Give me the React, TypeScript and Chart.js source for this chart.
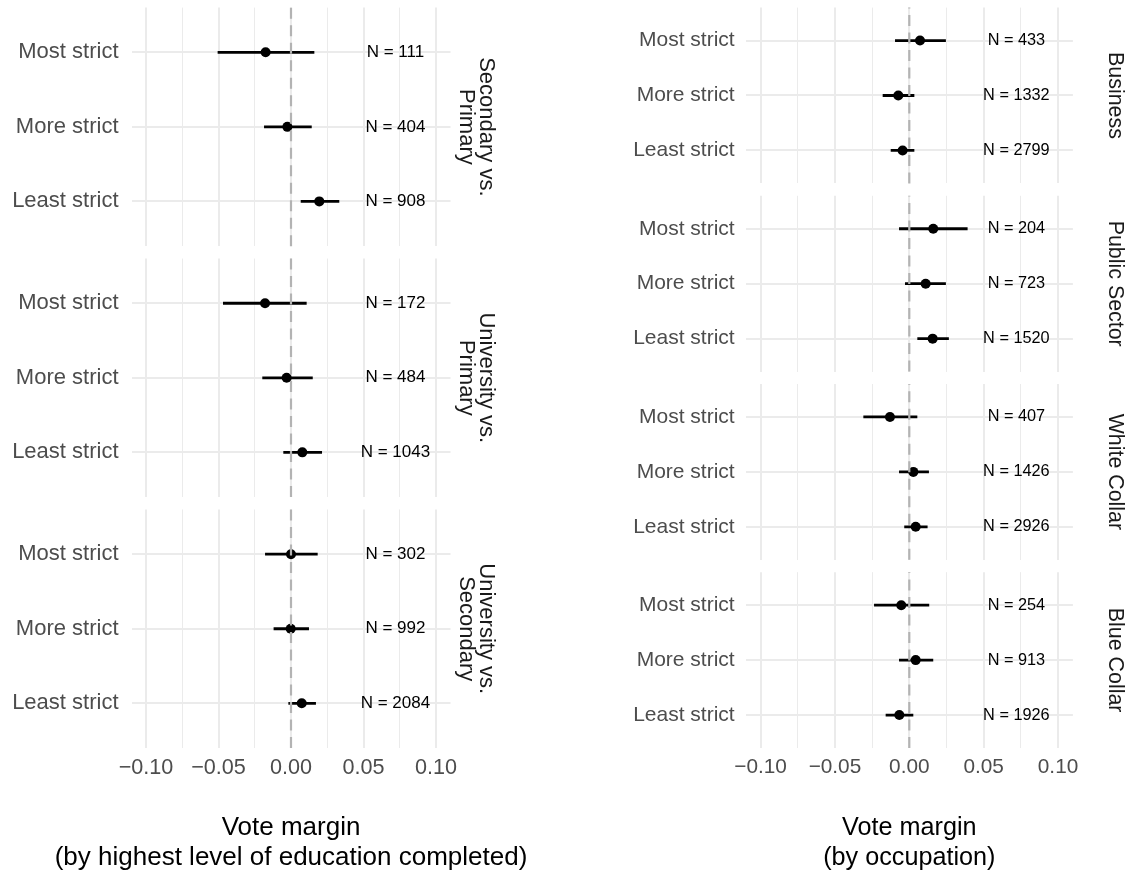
import React, { useEffect, useRef } from "react";
import { Chart, registerables } from "chart.js";
Chart.register(...registerables);

// ---------- data ----------
const strictness = ["Most strict", "More strict", "Least strict"];
const xTickValues = [-0.1, -0.075, -0.05, -0.025, 0, 0.025, 0.05, 0.075, 0.1];
const xTickLabels = ["\u22120.10", "", "\u22120.05", "", "0.00", "", "0.05", "", "0.10"];
const nLabelX = 0.072;

const eduFacets = [
  ["Secondary vs.", "Primary"],
  ["University vs.", "Primary"],
  ["University vs.", "Secondary"],
];
const eduEstimate = [
  [-0.0175, -0.0025, 0.0195],
  [-0.0179, -0.003, 0.0078],
  [0.0, -0.0002, 0.0074],
];
const eduLower = [
  [-0.0506, -0.0186, 0.0067],
  [-0.0469, -0.0198, -0.0053],
  [-0.0179, -0.012, -0.0018],
];
const eduUpper = [
  [0.0161, 0.0143, 0.0333],
  [0.0108, 0.015, 0.0214],
  [0.0184, 0.0124, 0.0172],
];
const eduN = [
  [111, 404, 908],
  [172, 484, 1043],
  [302, 992, 2084],
];
const eduTitle = ["Vote margin", "(by highest level of education completed)"];

const occFacets = [["Business"], ["Public Sector"], ["White Collar"], ["Blue Collar"]];
const occEstimate = [
  [0.0072, -0.0074, -0.0045],
  [0.0161, 0.011, 0.0157],
  [-0.013, 0.0027, 0.0043],
  [-0.0054, 0.0043, -0.0067],
];
const occLower = [
  [-0.0096, -0.0179, -0.0125],
  [-0.0069, -0.0029, 0.0054],
  [-0.0309, -0.0069, -0.0034],
  [-0.0237, -0.0069, -0.0159],
];
const occUpper = [
  [0.0246, 0.0034, 0.0034],
  [0.0392, 0.0246, 0.0266],
  [0.0054, 0.0132, 0.0123],
  [0.0134, 0.0161, 0.0027],
];
const occN = [
  [433, 1332, 2799],
  [204, 723, 1520],
  [407, 1426, 2926],
  [254, 913, 1926],
];
const occTitle = ["Vote margin", "(by occupation)"];

// ---------- layout / style ----------
const W = 1130;
const H = 873;
const FONT = "'Liberation Sans', Arial, Helvetica, sans-serif";
const PANEL_TOP = 7.6;
const PANEL_BOTTOM = 748;
const PANEL_GAP = 12.4;
const TITLE_Y = [828, 858];

type Col = {
  plotLeft: number;
  plotRight: number;
  labelPad: number;
  catFont: number;
  tickFont: number;
  nFont: number;
  titleFont: number;
  stripFont: number;
  stripX: number[];
  title: string[];
};

const leftCol: Col = {
  plotLeft: 131.5,
  plotRight: 450.5,
  labelPad: 13,
  catFont: 22,
  tickFont: 21.6,
  nFont: 17,
  titleFont: 26,
  stripFont: 22,
  stripX: [480, 460],
  title: eduTitle,
};
const rightCol: Col = {
  plotLeft: 745.7,
  plotRight: 1072.9,
  labelPad: 11,
  catFont: 21,
  tickFont: 20.8,
  nFont: 16.3,
  titleFont: 25.2,
  stripFont: 21.4,
  stripX: [1109.3],
  title: occTitle,
};

type Spec = {
  est: number[];
  lo: number[];
  hi: number[];
  n: number[];
  strip: string[];
  top: number;
  bottom: number;
  isBottom: boolean;
  col: Col;
};

function buildSpecs(
  col: Col,
  facets: string[][],
  est: number[][],
  lo: number[][],
  hi: number[][],
  n: number[][]
): Spec[] {
  const k = facets.length;
  const h = (PANEL_BOTTOM - PANEL_TOP - PANEL_GAP * (k - 1)) / k;
  return facets.map((strip, f) => {
    const top = PANEL_TOP + f * (h + PANEL_GAP);
    return {
      est: est[f],
      lo: lo[f],
      hi: hi[f],
      n: n[f],
      strip,
      top,
      bottom: top + h,
      isBottom: f === k - 1,
      col,
    };
  });
}

const specs: Spec[] = [
  ...buildSpecs(leftCol, eduFacets, eduEstimate, eduLower, eduUpper, eduN),
  ...buildSpecs(rightCol, occFacets, occEstimate, occLower, occUpper, occN),
];

function zeroPadding(s: any) {
  s.paddingTop = 0;
  s.paddingBottom = 0;
  s.paddingLeft = 0;
  s.paddingRight = 0;
}

function FacetChart({ spec }: { spec: Spec }) {
  const ref = useRef<HTMLCanvasElement>(null);
  useEffect(() => {
    if (!ref.current) return;
    const c = spec.col;
    const yVal = (i: number) => strictness.length - i;
    const datasets: any[] = [];
    datasets.push({
      type: "scatter",
      data: spec.est.map((v, i) => ({ x: v, y: yVal(i) })),
      pointRadius: 5,
      pointHoverRadius: 5,
      backgroundColor: "#000000",
      borderWidth: 0,
      order: 0,
    });
    strictness.forEach((_, i) => {
      datasets.push({
        type: "scatter",
        data: [
          { x: spec.lo[i], y: yVal(i) },
          { x: spec.hi[i], y: yVal(i) },
        ],
        showLine: true,
        borderColor: "#000000",
        borderWidth: 2.8,
        pointRadius: 0,
        pointHoverRadius: 0,
        order: 1,
      });
    });

    const extras = {
      id: "facetExtras",
      afterDatasetsDraw(chart: any) {
        const { ctx, chartArea } = chart;
        const xs = chart.scales.x;
        const ys = chart.scales.y;
        // dashed zero line
        ctx.save();
        ctx.strokeStyle = "#b3b3b3";
        ctx.lineWidth = 2.2;
        ctx.setLineDash([11, 6.5]);
        const x0 = xs.getPixelForValue(0);
        ctx.beginPath();
        ctx.moveTo(x0, chartArea.bottom);
        ctx.lineTo(x0, chartArea.top);
        ctx.stroke();
        ctx.restore();
        // N labels
        ctx.save();
        ctx.fillStyle = "#000000";
        ctx.font = `${c.nFont}px ${FONT}`;
        ctx.textAlign = "center";
        ctx.textBaseline = "middle";
        spec.n.forEach((nv, i) => {
          ctx.fillText(`N = ${nv}`, xs.getPixelForValue(nLabelX), ys.getPixelForValue(yVal(i)));
        });
        ctx.restore();
        // strip text (rotated clockwise)
        ctx.save();
        ctx.fillStyle = "#1a1a1a";
        ctx.font = `${c.stripFont}px ${FONT}`;
        ctx.textAlign = "center";
        ctx.textBaseline = "alphabetic";
        const cy = (chartArea.top + chartArea.bottom) / 2;
        spec.strip.forEach((line, li) => {
          ctx.save();
          ctx.translate(c.stripX[li], cy);
          ctx.rotate(Math.PI / 2);
          ctx.fillText(line, 0, 0);
          ctx.restore();
        });
        ctx.restore();
        // axis title (bottom facets only)
        if (spec.isBottom) {
          ctx.save();
          ctx.fillStyle = "#000000";
          ctx.font = `${c.titleFont}px ${FONT}`;
          ctx.textAlign = "center";
          ctx.textBaseline = "middle";
          const cx = (chartArea.left + chartArea.right) / 2;
          c.title.forEach((line, li) => ctx.fillText(line, cx, TITLE_Y[li]));
          ctx.restore();
        }
      },
    };

    const isMajor = (v: number) => Math.abs(v / 0.05 - Math.round(v / 0.05)) < 1e-6;

    const chart = new Chart(ref.current, {
      type: "scatter",
      data: { datasets },
      options: {
        responsive: false,
        animation: false,
        devicePixelRatio: 1,
        events: [],
        layout: {
          padding: {
            left: 0,
            top: spec.top,
            right: W - c.plotRight,
            bottom: spec.isBottom ? 0 : H - spec.bottom,
          },
        },
        plugins: {
          legend: { display: false },
          tooltip: { enabled: false },
        },
        scales: {
          x: {
            type: "linear",
            position: "bottom",
            min: -0.11,
            max: 0.11,
            afterBuildTicks: (s: any) => {
              s.ticks = xTickValues.map((v) => ({ value: v }));
            },
            afterFit: (s: any) => {
              s.height = spec.isBottom ? H - spec.bottom : 0;
              zeroPadding(s);
            },
            grid: {
              color: "#ebebeb",
              lineWidth: (ctx: any) => (ctx.tick && isMajor(ctx.tick.value) ? 2 : 1),
              drawTicks: false,
            },
            border: { display: false },
            ticks: {
              display: spec.isBottom,
              autoSkip: false,
              maxRotation: 0,
              minRotation: 0,
              padding: 7,
              color: "#4d4d4d",
              font: { family: FONT, size: c.tickFont },
              callback: (_v: any, i: number) => xTickLabels[i],
            },
            title: { display: false },
          },
          y: {
            type: "linear",
            position: "left",
            min: 0.4,
            max: 3.6,
            afterBuildTicks: (s: any) => {
              s.ticks = [1, 2, 3].map((v) => ({ value: v }));
            },
            afterFit: (s: any) => {
              s.width = c.plotLeft;
              zeroPadding(s);
            },
            grid: { color: "#ebebeb", lineWidth: 2, drawTicks: false },
            border: { display: false },
            ticks: {
              autoSkip: false,
              padding: c.labelPad,
              color: "#4d4d4d",
              font: { family: FONT, size: c.catFont },
              callback: (v: any) => strictness[strictness.length - Math.round(Number(v))],
            },
          },
        },
      } as any,
      plugins: [extras],
    } as any);
    return () => chart.destroy();
  }, [spec]);

  return (
    <canvas
      ref={ref}
      width={W}
      height={H}
      style={{ position: "absolute", left: 0, top: 0, width: W, height: H }}
    />
  );
}

export default function App() {
  return (
    <div
      style={{
        position: "absolute",
        left: 0,
        top: 0,
        width: W,
        height: H,
        background: "#ffffff",
        overflow: "hidden",
      }}
    >
      {specs.map((s, i) => (
        <FacetChart key={i} spec={s} />
      ))}
    </div>
  );
}
